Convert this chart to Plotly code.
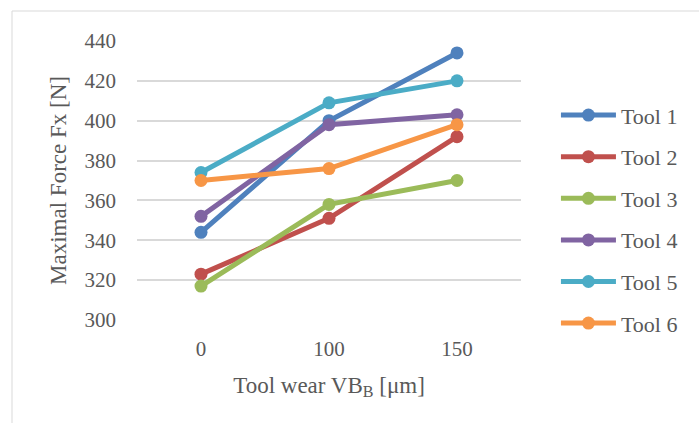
import plotly.graph_objects as go

categories = ["0", "100", "150"]
tool1 = [344, 400, 434]
tool2 = [323, 351, 392]
tool3 = [317, 358, 370]
tool4 = [352, 398, 403]
tool5 = [374, 409, 420]
tool6 = [370, 376, 398]
series_names = ["Tool 1", "Tool 2", "Tool 3", "Tool 4", "Tool 5", "Tool 6"]
series_values = [tool1, tool2, tool3, tool4, tool5, tool6]
colors = ["#4F81BD", "#C0504D", "#9BBB59", "#8064A2", "#4BACC6", "#F79646"]
y_ticks = [300, 320, 340, 360, 380, 400, 420, 440]

FONT = "Liberation Serif"
TXT = "#595959"

fig = go.Figure()
for i, (name, vals, col) in enumerate(zip(series_names, series_values, colors)):
    fig.add_trace(go.Scatter(
        x=categories, y=vals, name=name, mode="lines+markers",
        line=dict(color=col, width=5),
        marker=dict(color=col, size=13),
        legendgroup=name,
    ))

fig.update_layout(
    width=699, height=423,
    margin=dict(l=137, r=178, t=41, b=103),
    paper_bgcolor="white", plot_bgcolor="white",
    font=dict(family=FONT, size=21, color=TXT),
    showlegend=True,
    legend=dict(
        x=1.091, xanchor="left", y=0.809, yanchor="top",
        font=dict(family=FONT, size=22, color=TXT),
        tracegroupgap=10, itemwidth=55,
        bgcolor="rgba(0,0,0,0)",
    ),
    xaxis=dict(
        type="category", range=[-0.5, 2.5], showgrid=False, showline=False,
        zeroline=False, ticks="", ticklabelstandoff=14,
        title=dict(text="Tool wear VB<sub>B</sub> [μm]", standoff=16,
                   font=dict(family=FONT, size=23, color=TXT)),
        tickfont=dict(family=FONT, size=21, color=TXT),
    ),
    yaxis=dict(
        range=[300, 440], tickvals=y_ticks, showgrid=True,
        gridcolor="#D9D9D9", gridwidth=2, zeroline=False, showline=False,
        ticks="", ticklabelstandoff=20,
        title=dict(text="Maximal Force Fx [N]", standoff=11,
                   font=dict(family=FONT, size=23, color=TXT)),
        tickfont=dict(family=FONT, size=21, color=TXT),
    ),
    shapes=[dict(type="rect", xref="paper", yref="paper",
                 x0=-0.3255, x1=2.0, y0=-0.6, y1=1.1075,
                 line=dict(color="#D9D9D9", width=1), fillcolor="rgba(0,0,0,0)",
                 layer="below")],
)

fig.write_html("out.html", config={"displayModeBar": False},
               post_script="document.body.style.margin='0px';")
